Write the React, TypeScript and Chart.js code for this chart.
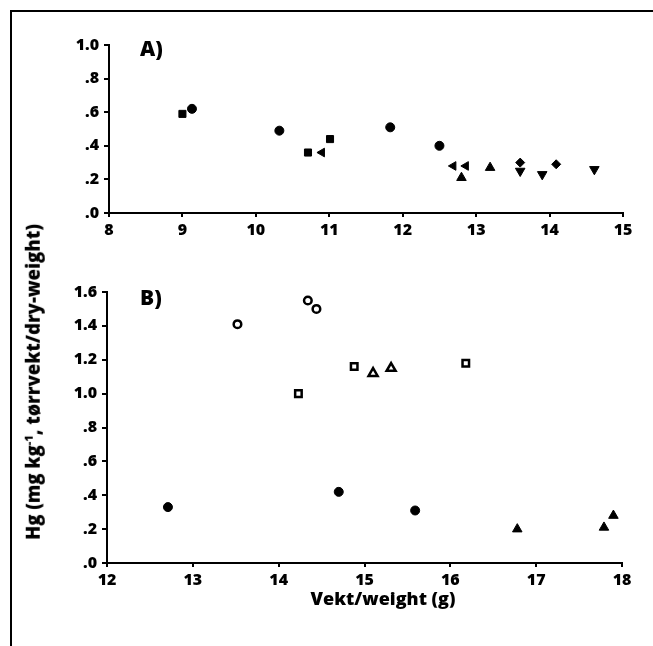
import React, { useEffect, useRef } from "react";
import { Chart, registerables } from "chart.js";
Chart.register(...registerables);

const FONT = "'Open Sans', 'Liberation Sans', sans-serif";

// Panel A data (x = weight g, y = Hg mg/kg dry weight)
const aSquaresX = [9.0, 10.71, 11.01];
const aSquaresY = [0.59, 0.36, 0.44];
const aCirclesX = [9.13, 10.32, 11.83, 12.5];
const aCirclesY = [0.62, 0.49, 0.51, 0.4];
const aLeftTriX = [10.9, 12.69, 12.86];
const aLeftTriY = [0.36, 0.28, 0.28];
const aUpTriX = [12.8, 13.19];
const aUpTriY = [0.21, 0.27];
const aDiamondX = [13.6, 14.09];
const aDiamondY = [0.3, 0.29];
const aDownTriX = [13.6, 13.9, 14.61];
const aDownTriY = [0.25, 0.23, 0.26];

// Panel B data
const bOpenCircX = [13.52, 14.34, 14.44];
const bOpenCircY = [1.41, 1.55, 1.5];
const bOpenSqX = [14.23, 14.88, 16.18];
const bOpenSqY = [1.0, 1.16, 1.18];
const bOpenTriX = [15.1, 15.31];
const bOpenTriY = [1.12, 1.15];
const bFillCircX = [12.71, 14.7, 15.59];
const bFillCircY = [0.33, 0.42, 0.31];
const bFillTriX = [16.78, 17.79, 17.9];
const bFillTriY = [0.2, 0.21, 0.28];

const xTicksA = { min: 8, max: 15, step: 1 };
const yTicksA = { min: 0, max: 1.0, step: 0.2 };
const xTicksB = { min: 12, max: 18, step: 1 };
const yTicksB = { min: 0, max: 1.6, step: 0.2 };

const pts = (xs: number[], ys: number[]) => xs.map((x, i) => ({ x, y: ys[i] }));

const ds = (
  xs: number[],
  ys: number[],
  style: string,
  radius: number,
  rotation: number,
  open: boolean
) => ({
  data: pts(xs, ys),
  pointStyle: style,
  pointRadius: radius,
  pointRotation: rotation,
  backgroundColor: open ? "#fff" : "#000",
  borderColor: "#000",
  borderWidth: open ? 2.5 : 1,
  showLine: false,
});

const fmtY = (v: number) => {
  const s = Number(v).toFixed(1);
  return s.startsWith("0") ? s.slice(1) : s;
};

type PanelProps = {
  top: number;
  height: number;
  datasets: any[];
  xr: { min: number; max: number; step: number };
  yr: { min: number; max: number; step: number };
  yWidth: number;
  padRight: number;
  padTop: number;
  xHeight: number;
};

function Panel(p: PanelProps) {
  const ref = useRef<HTMLCanvasElement | null>(null);
  useEffect(() => {
    if (!ref.current) return;
    const tickFont = { family: FONT, size: 16, weight: "800" as any };
    const chart = new Chart(ref.current, {
      type: "scatter",
      data: { datasets: p.datasets },
      options: {
        animation: false,
        responsive: false,
        devicePixelRatio: 1,
        layout: { padding: { left: 0, right: p.padRight, top: p.padTop, bottom: 0 } },
        plugins: { legend: { display: false }, tooltip: { enabled: false } },
        scales: {
          x: {
            type: "linear",
            min: p.xr.min,
            max: p.xr.max,
            ticks: { stepSize: p.xr.step, color: "#000", font: tickFont, padding: 4 },
            grid: { drawOnChartArea: false, drawTicks: true, tickLength: 4, color: "#000", lineWidth: 2 },
            border: { display: true, color: "#000", width: 2 },
            afterFit: (s: any) => {
              s.height = p.xHeight;
            },
          },
          y: {
            type: "linear",
            min: p.yr.min,
            max: p.yr.max,
            ticks: {
              stepSize: p.yr.step,
              color: "#000",
              font: tickFont,
              padding: 5,
              callback: (v: any) => fmtY(v),
            },
            grid: { drawOnChartArea: false, drawTicks: true, tickLength: 5, color: "#000", lineWidth: 2 },
            border: { display: true, color: "#000", width: 2 },
            afterFit: (s: any) => {
              s.width = p.yWidth;
            },
          },
        },
      } as any,
    });
    return () => chart.destroy();
  }, []);
  return (
    <canvas
      ref={ref}
      width={653}
      height={p.height}
      style={{ position: "absolute", left: 0, top: p.top, width: 653, height: p.height }}
    />
  );
}

export default function App() {
  const datasetsA = [
    ds(aSquaresX, aSquaresY, "rect", 5, 0, false),
    ds(aCirclesX, aCirclesY, "circle", 4.5, 0, false),
    ds(aLeftTriX, aLeftTriY, "triangle", 5, -90, false),
    ds(aUpTriX, aUpTriY, "triangle", 5.5, 0, false),
    ds(aDiamondX, aDiamondY, "rectRot", 4.5, 0, false),
    ds(aDownTriX, aDownTriY, "triangle", 5.5, 180, false),
  ];
  const datasetsB = [
    ds(bOpenCircX, bOpenCircY, "circle", 3.8, 0, true),
    ds(bOpenSqX, bOpenSqY, "rect", 4.6, 0, true),
    ds(bOpenTriX, bOpenTriY, "triangle", 5.2, 0, true),
    ds(bFillCircX, bFillCircY, "circle", 4.5, 0, false),
    ds(bFillTriX, bFillTriY, "triangle", 5.5, 0, false),
  ];
  const labelStyle: React.CSSProperties = {
    position: "absolute",
    fontFamily: FONT,
    fontWeight: 800,
    color: "#000",
    whiteSpace: "nowrap",
    lineHeight: 1,
  };
  return (
    <div style={{ position: "absolute", left: 0, top: 0, width: 653, height: 646, background: "#fff", overflow: "hidden" }}>
      <Panel top={0} height={250} datasets={datasetsA} xr={xTicksA} yr={yTicksA} yWidth={109} padRight={30} padTop={45} xHeight={37} />
      <Panel top={250} height={396} datasets={datasetsB} xr={xTicksB} yr={yTicksB} yWidth={107} padRight={31} padTop={42} xHeight={83} />
      {/* frame */}
      <div style={{ position: "absolute", left: 10, top: 10, width: 643, height: 2, background: "#000" }} />
      <div style={{ position: "absolute", left: 10, top: 10, width: 2, height: 636, background: "#000" }} />
      {/* panel labels */}
      <div style={{ ...labelStyle, left: 140, top: 38, fontSize: 21 }}>A)</div>
      <div style={{ ...labelStyle, left: 140, top: 287, fontSize: 21 }}>B)</div>
      {/* x title */}
      <div style={{ ...labelStyle, left: 383, top: 598, fontSize: 18, transform: "translate(-50%, -50%)" }}>Vekt/weight (g)</div>
      {/* y title */}
      <div
        style={{
          ...labelStyle,
          left: 33,
          top: 382,
          fontSize: 18.5,
          transform: "translate(-50%, -50%) rotate(-90deg)",
        }}
      >
        Hg (mg kg<sup style={{ fontSize: 11, verticalAlign: "super", lineHeight: 0 }}>-1</sup>, tørrvekt/dry-weight)
      </div>
    </div>
  );
}
